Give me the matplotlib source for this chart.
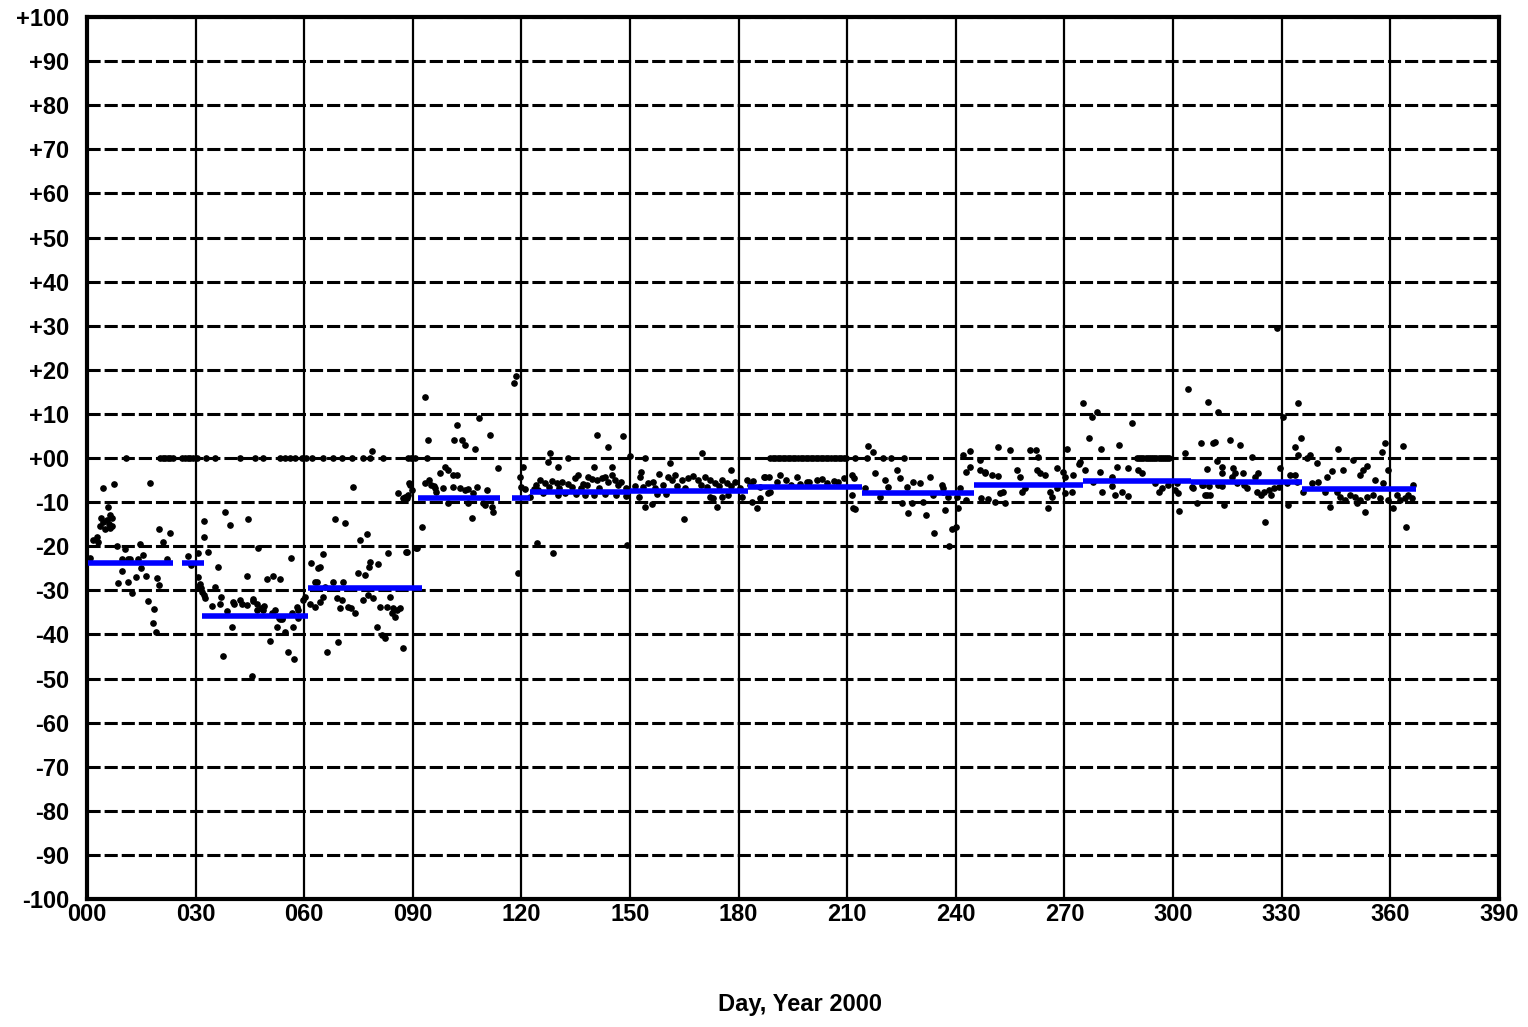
import matplotlib
matplotlib.use("Agg")
import matplotlib.pyplot as plt

plt.rcParams['font.family'] = ['Liberation Sans', 'DejaVu Sans']

# daily readings (day of year, deviation), month by month
jan = [(0.8, -22.7), (1.8, -18.6), (2.8, -18), (3.1, -19), (4.4, -6.8), (7.5, -5.9), (17.4, -5.6),
       (5.8, -11), (4.0, -13.5), (4.5, -14.5), (5.0, -16), (5.5, -14), (6.0, -15), (6.5, -13),
       (7.0, -15.5), (3.5, -15.5), (6.9, -13.6), (6.4, -15.9), (20, -16), (23, -17), (21, -19),
       (8.3, -20), (14.6, -19.4), (10.5, -20.6), (9.7, -23), (11.9, -23), (14, -23), (15.5, -22),
       (22, -23), (11.3, -23), (9.7, -25.6), (15, -25), (16.3, -26.7), (13.5, -27), (11.3, -28),
       (8.6, -28.3), (19.3, -27.2), (20, -28.8), (12.4, -30.7), (16.8, -32.4), (18.5, -34.3),
       (18.2, -37.4), (19, -39.4), (28, -22.2), (28.7, -24.3), (30.7, -21.5)]

feb = [(32.3, -14.3), (32.3, -17.9), (33.4, -21.3), (38, -12.2), (39.5, -15.2), (44.5, -13.9),
       (36.2, -24.7), (47.2, -20.4), (56.4, -22.6), (30.8, -27), (31.2, -28.5), (31.5, -29.5),
       (31.9, -30.3), (32.3, -31), (32.6, -31.8), (31, -29), (35.4, -29.2), (37, -31.5),
       (34.5, -33.6), (36.8, -33.2), (38.7, -34.6), (40.5, -33), (42.2, -32.2), (44.2, -33.4),
       (46, -31.9), (47, -33.2), (48, -34), (49, -33.6), (40.3, -32.7), (42.8, -33), (45.9, -32.4),
       (47, -34.5), (48.6, -34.5), (51, -35.2), (53.3, -36.5), (53.9, -36.5), (56.6, -35.2),
       (58.3, -34.5), (44.2, -26.8), (49.7, -27.4), (51.4, -26.8), (53.3, -27.4), (40, -38.3),
       (52, -34.5), (53, -36.3), (54, -36.3), (52.5, -38.3), (54.7, -39.4), (57, -38.3),
       (58.3, -36.3), (58, -33.8), (59.7, -32.2), (60.2, -31.5), (50.6, -41.5), (37.6, -45),
       (55.5, -44), (57.2, -45.6), (45.6, -49.4)]

mar = [(62, -23.8), (63.8, -25), (63, -28), (64.4, -24.7), (65.2, -21.8), (68.5, -13.8),
       (71.3, -14.7), (77.3, -17.2), (75.4, -18.6), (83.1, -21.5), (88.4, -21.3), (91.1, -20.4),
       (78.2, -23.6), (77.9, -24.7), (80.4, -24), (74.9, -26), (76.8, -26.5), (63.5, -28),
       (68, -28), (70.7, -28), (65.7, -29.2), (61.6, -33), (63, -33.8), (64.4, -32.7),
       (65.2, -31.5), (69, -31.7), (70.4, -32.2), (69.8, -34), (72, -33.8), (73, -34),
       (74, -35.1), (76.2, -32.2), (77.6, -31), (79, -31.7), (81, -33.8), (82.9, -33.8),
       (83.8, -31.5), (84.6, -34), (85.1, -36), (86.5, -34), (84.2, -35.2), (85.6, -34.5),
       (80, -38.3), (81.5, -40.1), (82.3, -40.8), (69.3, -41.7), (66.3, -44), (87.3, -43),
       (73.5, -6.6), (78.8, 1.6)]

apr = [(93.4, 13.8), (108.3, 9), (111.3, 5.2), (102.2, 7.5), (94.2, 4), (101.4, 4), (103.6, 4),
       (104.4, 3), (107.2, 2), (113.5, -2.3), (118, 17), (118.5, 18.6), (120.4, -2), (119.6, -4.3),
       (98.8, -2), (97.4, -3.4), (99.6, -2.7), (101, -3.9), (102.2, -3.9), (93.4, -5.6),
       (94.6, -5), (95, -6), (96, -6.8), (96.5, -7.7), (95.8, -6.4), (89, -5.6), (89.8, -7.3),
       (86, -8), (87.8, -8.8), (88.4, -9), (98.3, -6.8), (101, -6.5), (103, -6.8), (104.4, -7.3),
       (105.2, -7), (107.7, -6.6), (110.5, -7.2), (106.6, -8), (99.7, -10.2), (105.2, -10.2),
       (109.4, -10.2), (110, -10.7), (111.9, -11), (112.2, -12.2), (106.4, -13.6), (92.5, -15.6),
       (119, -26), (87.4, -9), (88.8, -8.4), (89.3, -6.1), (91, -20.4), (88, -21.3),
       (120, -6.6), (121, -7), (122.4, -8.8), (123.5, -7), (124.5, -7.3)]

may_jun = [(126.5, -5.7), (128.5, -5.2), (129.8, -5.7), (131.2, -5.4), (132.9, -5.9), (134.8, -4.5),
           (135.6, -3.9), (137, -5.9), (138.4, -4.3), (139.5, -4.8), (140.9, -5), (142.3, -4.5),
           (143.1, -4.3), (143.9, -5.4), (145, -3.9), (145.9, -5), (146.7, -6.1), (151.4, -6.3),
           (155, -5.7), (156.3, -5.4), (160.5, -4.3), (161.6, -5), (162.4, -3.9), (164.4, -5),
           (166, -4.5), (167.4, -4.1), (168.8, -5), (170.7, -4.3), (172.1, -5), (173.5, -5.7),
           (175.4, -5), (176.8, -5.7), (179, -5.4), (182.3, -5), (184, -5.2), (187.3, -4.3),
           (141, 5.2), (148, 5), (144, 2.5), (128, 1.1), (127.3, -0.9), (133, 0), (130, -2),
           (140, -2), (145, -2), (150, 0.4), (154, 0), (161, -1.2), (170, 1.1), (153, -3.2),
           (152.8, -4.3), (158, -3.6), (178, -2.7), (187, -4.3), (154, -11), (156, -10.4),
           (174, -11), (165, -13.8), (181, -8.8), (183.7, -10), (185, -11.3), (172, -8.8),
           (173, -9), (175.5, -8.8), (177, -8.4), (126, -8), (132, -8), (140, -8.4), (149, -8.6),
           (152.5, -8.8), (157.5, -8.2), (160, -8.2), (149.2, -19.7), (128.7, -21.5), (124.3, -19.3),
           (124, -6), (125, -5), (127.5, -6.5), (130.5, -6.8), (134, -6.5), (136.5, -6.8),
           (138, -6.2), (141.5, -6.8), (147.5, -5.5), (149, -6.8), (153.5, -6.5), (157, -6.7),
           (159, -6), (163, -6.4), (165.2, -6.9), (169.5, -6.2), (171.2, -6.6), (174.5, -6.4),
           (178, -6.3), (180.5, -6.7), (183, -6.2), (186, -6.5), (130, -8.3), (135, -8.2),
           (137.5, -8.3), (143, -8.2), (146, -8.3)]

jul_aug = [(186, -9), (188, -8), (188.6, -7.7), (188.4, -4.3), (191.4, -3.9), (196, -4.3),
           (198.8, -5.4), (201.6, -5), (206.3, -5.2), (211.3, -3.9), (211.8, -4.5), (211.3, -8.4),
           (212, -11.6), (215.7, 2.7), (217, 1.4), (190.5, -5.5), (193, -5), (194.5, -6), (197, -5.8),
           (199.5, -5.5), (203, -4.8), (204.5, -5.7), (207.5, -5.4), (209, -4.6), (217.7, -3.4),
           (220.5, -5), (223.8, -2.7), (224.6, -4.5), (226.5, -6.6), (228.2, -5.4), (230.1, -5.7),
           (232.9, -4.3), (236.2, -6.1), (236.5, -6.8), (215, -6.8), (219, -8.8), (221.3, -6.6),
           (225.2, -10.2), (227.9, -10.2), (231, -10), (226.8, -12.5), (231.7, -12.9), (233.7, -8.4),
           (236.5, -7.7), (241.2, -6.8), (234, -17), (239, -16), (240, -15.6), (238, -20),
           (237, -11.8), (240.6, -11.3), (237.8, -8.8), (240.2, -8.8), (242.7, -3.2), (244, -2),
           (246.6, -2.7), (248, -3.4), (242.7, -9.5), (246.8, -9), (242, 0.7), (244, 1.6),
           (246.7, -0.5), (211.6, -11.3)]

sep_oct = [(248, -3.2), (250, -3.9), (251.7, -4.1), (257, -2.7), (257.7, -4.3), (262.4, -2.7),
           (263.3, -3.4), (264.6, -3.9), (268, -2.3), (269.6, -3.2), (270.2, -4.3), (272.4, -3.9),
           (252.2, -8), (253, -7.7), (250.8, -10), (253.6, -10.2), (249, -9.3), (258.3, -7.7),
           (259, -6.8), (266, -7.7), (266.6, -8.8), (265.5, -11.3), (268, -6.8), (270.2, -8),
           (272, -7.7), (251.7, 2.5), (255, 1.8), (260.5, 1.8), (262, 1.8), (262.7, 0.2), (270.7, 2),
           (274.3, -0.9), (274, -1.4), (275, 12.5), (277.6, 9.3), (279, 10.4), (288.7, 7.9),
           (276.8, 4.5), (280, 2), (285, 2.9), (275.7, -2.7), (278, -5.4), (279.8, -3.2), (283, -4.3),
           (284.5, -2), (287.6, -2.3), (290.3, -2.7), (291.4, -3.4), (295, -5.7), (297, -6.8),
           (298.6, -6.1), (301, -5.7), (280.4, -7.7), (283, -6.3), (284, -8.4), (286, -7.7),
           (287.6, -8.6), (296, -7.7), (300.5, -7.3), (301.4, -8), (301.7, -12), (303.3, 1.1),
           (304, 15.6)]

nov_dec = [(305.2, -6.6), (308.3, -6.1), (312.4, -6.1), (305.5, -6.8), (308.8, -8.4), (310.2, -8.4),
           (306.6, -10.2), (309.7, 12.7), (312.4, 10.4), (307.7, 3.4), (311.6, 3.6), (311, 3.4),
           (315.7, 4.1), (318.5, 2.9), (321.8, 0.2), (312.2, -0.7), (309.4, -2.5), (313.5, -2),
           (316.6, -2.3), (319.3, -3.4), (323.5, -3.4), (322.7, -4.3), (313.5, -3.4), (316.3, -4.3),
           (317, -3.4), (329.6, -2.3), (332.3, -3.9), (333.7, -3.9), (307.9, -6.1), (310, -6.3),
           (313.5, -6.3), (317.6, -5.7), (319.5, -6.1), (320.3, -6.8), (323.1, -7.7), (325, -7.7),
           (326.4, -7.3), (328, -6.8), (329.2, -6.6), (331.4, -5.7), (334.2, -5.4), (309.4, -8.4),
           (314, -10.7), (324.2, -8.4), (327, -8.4), (325.5, -14.5), (331.8, -10.7), (328.7, 29.5),
           (330.4, 9.3), (334.5, 12.5), (335.4, 4.5), (333.7, 2.5), (334.5, 0.7), (337, 0),
           (337.8, 0.7), (339.7, -1.1), (345.6, 2), (347, -2.7), (349.7, -0.5), (358.6, 3.4),
           (357.7, 1.4), (359.4, -2.7), (363.5, 2.7), (353.6, -1.8), (352.5, -2.7), (351.7, -3.9),
           (355.8, -5), (358, -5.7), (344, -3), (342.5, -4.3), (335.9, -7.7), (338.4, -5.7),
           (340.1, -5.4), (342, -7.7), (345.3, -7.7), (346.1, -8.8), (347.5, -9.5), (348.9, -8.4),
           (350.3, -8.8), (350.8, -10.2), (351.7, -9.5), (353, -12.2), (353.6, -8.8), (355.2, -8.4),
           (357.2, -9.1), (359.4, -9.5), (360.8, -11.3), (361.9, -8.4), (362.7, -9.5), (364.1, -9.1),
           (364.9, -8.4), (366, -9.1), (366.3, -6.1), (343.4, -11.1), (364.4, -15.6)]

# readings sitting exactly on +00
zero_day = [10.8, 20.2, 20.9, 21.6, 22.3, 23, 23.8, 26.2, 27, 27.8, 28.6, 29.4, 30.4, 33, 35.4,
            42.3, 46.4, 48.6, 53.3, 54.7, 56, 57.5, 59.4, 60.5, 62.2, 65.2, 68, 70.4, 73.2, 76.2,
            78.2, 81.8, 88.7, 89.6, 90.6, 94, 188.7, 189.4, 190.1, 190.8, 191.5, 192.2, 192.9,
            193.6, 194.3, 195, 195.7, 196.4, 197.1, 197.8, 198.5, 199.2, 199.9, 200.6, 201.3, 202,
            202.7, 203.4, 204.1, 204.8, 205.5, 206.2, 206.9, 207.6, 208.3, 209, 209.7, 212, 215.5,
            220, 222, 225.7, 290, 290.6, 291.2, 291.8, 292.4, 293, 293.6, 294.2, 294.8, 295.4, 296,
            296.6, 297.2, 297.8, 298.4, 299]

# monthly means (blue bars)
seg_start = [0.3, 26.2, 31.8, 61, 91.4, 117.4, 122.4, 150, 182.6, 214, 245, 275, 305, 335.6]
seg_end = [23.7, 32.3, 61, 92.5, 114, 122.4, 150, 182.6, 214, 245, 275, 305, 335.6, 367]
seg_mean = [-23.8, -23.8, -35.8, -29.5, -9, -9, -7.6, -7.5, -6.6, -8, -6.1, -5.2, -5.5, -7]

xticks = list(range(0, 391, 30))
xlabels = ['%03d' % v for v in xticks]
yticks = list(range(-100, 101, 10))
ylabels = ['+%02d' % v if v >= 0 else '-%02d' % abs(v) for v in yticks]

fig = plt.figure(figsize=(15.28, 10.27), dpi=100)
ax = fig.add_axes([0.0569, 0.1246, 0.9241, 0.8588])

ax.set_xlim(0, 390)
ax.set_ylim(-100, 100)
ax.set_xticks(xticks)
ax.set_xticklabels(xlabels)
ax.set_yticks(yticks)
ax.set_yticklabels(ylabels)
ax.tick_params(axis='both', length=0, labelsize=17)
ax.tick_params(axis='y', pad=13)
ax.tick_params(axis='x', pad=3)
for lab in ax.get_xticklabels() + ax.get_yticklabels():
    lab.set_fontweight('bold')

ax.set_axisbelow(True)
ax.xaxis.grid(True, color='black', lw=1.6, ls='-')
ax.yaxis.grid(True, color='black', lw=2.2, ls=(0, (4.3, 1.3)))
for sp in ax.spines.values():
    sp.set_linewidth(3)
    sp.set_color('black')

allpts = jan + feb + mar + apr + may_jun + jul_aug + sep_oct + nov_dec
ax.plot([p[0] for p in allpts], [p[1] for p in allpts], 'o', color='black', ms=3.8, zorder=3)
ax.plot(zero_day, [0] * len(zero_day), 'o', color='black', ms=3.8, zorder=3)

ax.hlines(seg_mean, seg_start, seg_end, colors='#0000ff', lw=4, zorder=4)

fig.text(0.5236, 1 - 1005 / 1027, 'Day, Year 2000', ha='center', va='center',
         fontsize=17, fontweight='bold')

fig.savefig('out.png', dpi=100)
